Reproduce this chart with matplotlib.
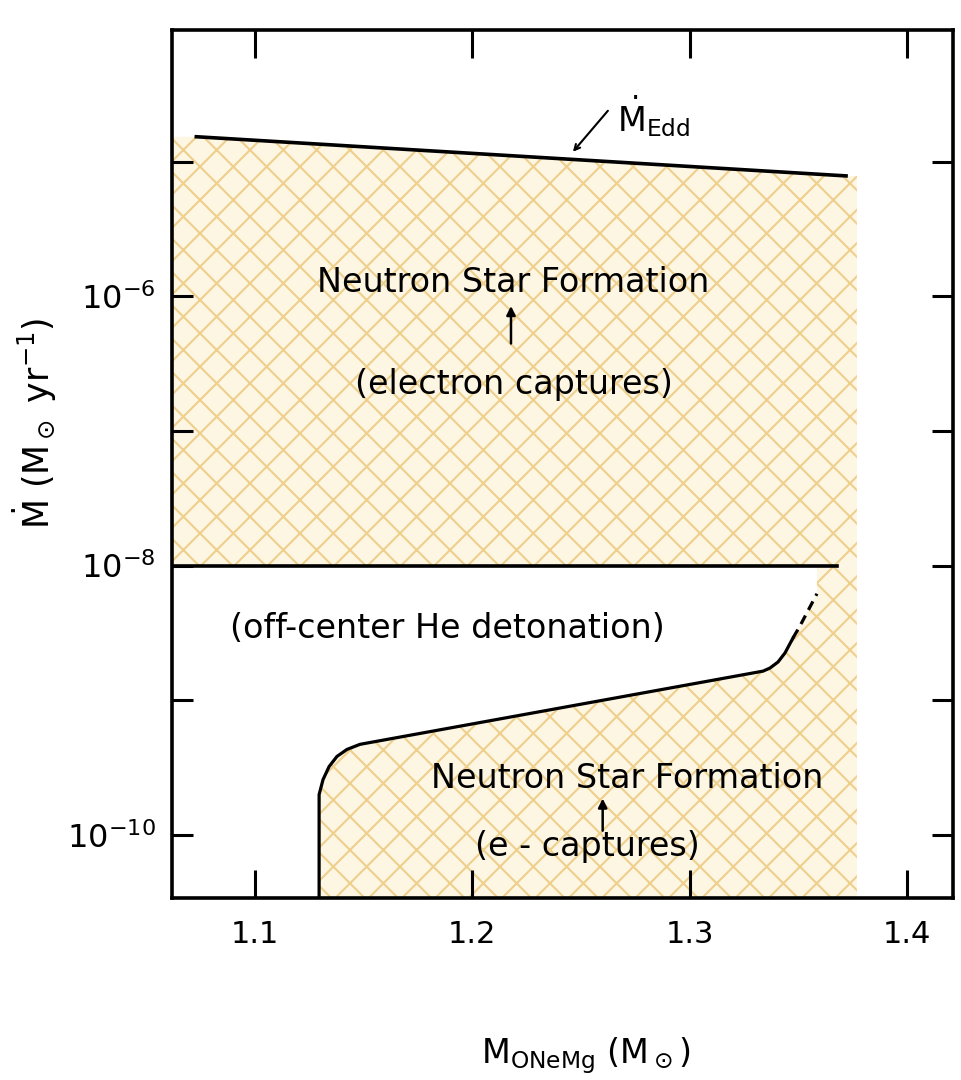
import numpy as np
import matplotlib
matplotlib.use('Agg')
from matplotlib import pyplot as plt
from matplotlib.ticker import FixedLocator, FuncFormatter

plt.rcParams['font.family'] = ['DejaVu Sans']
plt.rcParams['mathtext.fontset'] = 'dejavusans'
plt.rcParams['mathtext.default'] = 'regular'
plt.rcParams['hatch.linewidth'] = 1.5

# x axis ticks (white dwarf mass, Msun)
mass_ticks = [1.1, 1.2, 1.3, 1.4]
# y axis decades (log10 Mdot)
decades = [-10, -9, -8, -7, -6, -5, -4]

# Eddington accretion rate line
edd_mass = [1.073, 1.372]
edd_logmdot = [-4.813, -5.104]

# off-center He detonation boundary (upper)
he_mass = [1.062, 1.368]
he_logmdot = [-8.0, -8.0]

# lower boundary (solid part)
low_mass = [1.1295, 1.1295, 1.1313, 1.1341, 1.1377, 1.1423, 1.1483, 1.3338,
            1.3370, 1.3407, 1.3439, 1.3476]
low_logmdot = [-10.49, -9.701, -9.590, -9.493, -9.418, -9.366, -9.328, -8.784,
               -8.761, -8.716, -8.649, -8.537]
# dashed continuation
dash_mass = [1.3476, 1.3508, 1.3586]
dash_logmdot = [-8.537, -8.448, -8.209]

xmin, xmax = 1.0618, 1.4212
ymin, ymax = 10**-10.47, 10**-4.02
shade_edge = 1.377

fig = plt.figure(figsize=(9.62, 10.8), dpi=100)
ax = fig.add_axes([0.1788, 0.1685, 0.8118, 0.8037])

shade_face = '#fdf6e3'
shade_hatch = '#efcf8c'

# upper shaded region (electron captures)
up_x = [xmin, edd_mass[0], edd_mass[1], shade_edge, shade_edge, xmin]
up_y = 10**np.array([edd_logmdot[0], edd_logmdot[0], edd_logmdot[1],
                     edd_logmdot[1], -8.0, -8.0])
ax.fill(up_x, up_y, facecolor=shade_face, edgecolor=shade_hatch, hatch='x',
        linewidth=0, zorder=1)

# lower shaded region (below the boundary curve)
lo_x = np.concatenate([low_mass, dash_mass[1:],
                       [dash_mass[-1], shade_edge, shade_edge, low_mass[0]]])
lo_y = np.concatenate([10**np.array(low_logmdot), 10**np.array(dash_logmdot[1:]),
                       [1e-8, 1e-8, ymin / 2, ymin / 2]])
ax.fill(lo_x, lo_y, facecolor=shade_face, edgecolor=shade_hatch, hatch='x',
        linewidth=0, zorder=1)

ax.plot(edd_mass, 10**np.array(edd_logmdot), color='k', lw=2.6, zorder=3)
ax.plot(he_mass, 10**np.array(he_logmdot), color='k', lw=2.6, zorder=3)
ax.plot(low_mass, 10**np.array(low_logmdot), color='k', lw=2.3, zorder=3)
ax.plot(dash_mass, 10**np.array(dash_logmdot), color='k', lw=2.3, ls=(0, (3, 2)), zorder=3)

ax.set_yscale('log')
ax.set_xlim(xmin, xmax)
ax.set_ylim(ymin, ymax)

ax.xaxis.set_major_locator(FixedLocator(mass_ticks))
ax.xaxis.set_major_formatter(FuncFormatter(lambda v, p: '%.1f' % v))
ax.yaxis.set_major_locator(FixedLocator([10.0**d for d in decades]))
ax.yaxis.set_minor_locator(FixedLocator([]))

def ylab(v, p):
    e = int(round(np.log10(v)))
    if e % 2 == 0:
        return r'$10^{%d}$' % e
    return ''

ax.yaxis.set_major_formatter(FuncFormatter(ylab))
ax.tick_params(axis='x', which='major', direction='in', top=True, length=20,
               width=2.2, labelsize=22, pad=16)
ax.tick_params(axis='y', which='major', direction='in', right=True, length=15,
               width=2.2, labelsize=23, pad=12)
for s in ax.spines.values():
    s.set_linewidth(2.6)

# annotations
txt = dict(fontsize=24, color='k', ha='center', va='center', zorder=4)
ax.text(1.2187, 10**-5.896, 'Neutron Star Formation', **txt)
ax.annotate('', xy=(1.2178, 10**-6.05), xytext=(1.2178, 10**-6.37),
            arrowprops=dict(arrowstyle='-|>', lw=1.8, color='k', mutation_scale=13), zorder=4)
ax.text(1.2190, 10**-6.657, '(electron captures)', **txt)
ax.text(1.1884, 10**-8.47, '(off-center He detonation)', **txt)
ax.text(1.2712, 10**-9.58, 'Neutron Star Formation', **txt)
ax.annotate('', xy=(1.2600, 10**-9.71), xytext=(1.2600, 10**-9.99),
            arrowprops=dict(arrowstyle='-|>', lw=1.8, color='k', mutation_scale=13), zorder=4)
ax.text(1.2528, 10**-10.09, '(e - captures)', **txt)

ax.annotate('', xy=(1.2463, 10**-4.925), xytext=(1.2624, 10**-4.62),
            arrowprops=dict(arrowstyle='->', lw=1.5, color='k', shrinkA=0, shrinkB=0))
ax.text(1.2665, 10**-4.66, r'$\dot{M}_{Edd}$', fontsize=24, ha='left', va='center')

fig.text(0.036, 0.608, r'$\dot{M}$ (M$_\odot$ yr$^{-1}$)', rotation=90,
         fontsize=25, ha='center', va='center')
fig.text(0.609, 0.023, r'M$_{ONeMg}$ (M$_\odot$)', fontsize=24, ha='center', va='center')

fig.savefig('out.png', dpi=100)
